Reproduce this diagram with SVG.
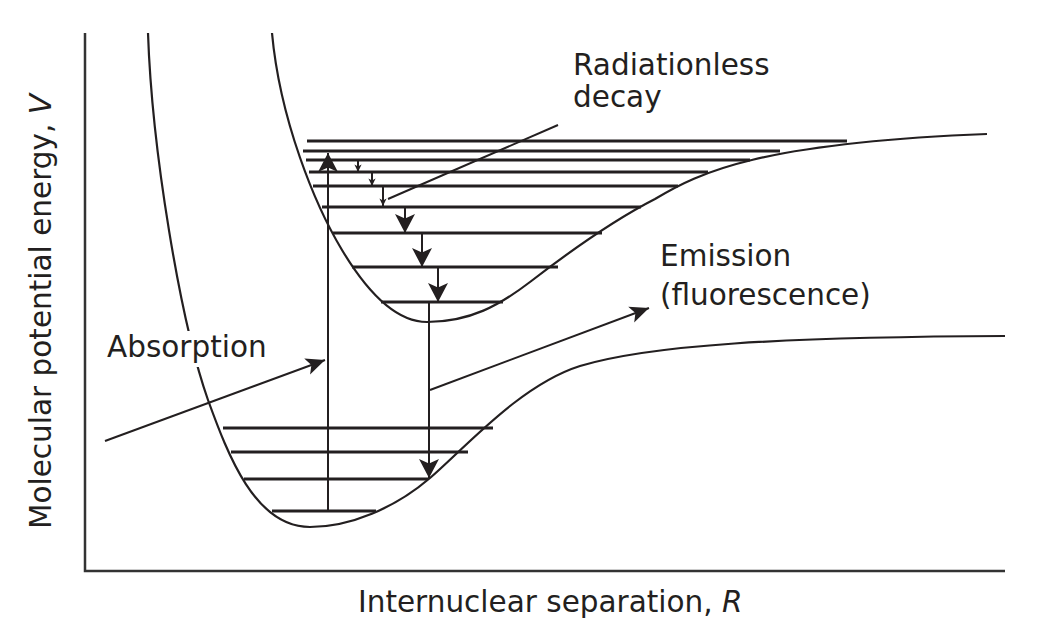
<svg xmlns="http://www.w3.org/2000/svg" width="1053" height="631" viewBox="0 0 1053 631">
<defs>
<style>
.curve{fill:none;stroke:#231f20;stroke-width:2.2}
.lvl{stroke:#231f20;stroke-width:3}
.axis{stroke:#333;stroke-width:2.5;fill:none}
.arr{stroke:#231f20;stroke-width:2;fill:none}
.lbl{font-family:"DejaVu Sans",sans-serif;font-size:29.5px;fill:#231f20}
</style>
<marker id="big" markerUnits="userSpaceOnUse" markerWidth="24" markerHeight="24" viewBox="-20 -12 22 24" refX="0" refY="0" orient="auto">
<path d="M0,0 L-19,-10 L-14.5,0 L-19,10 Z" fill="#231f20"/>
</marker>
<marker id="lab" markerUnits="userSpaceOnUse" markerWidth="24" markerHeight="24" viewBox="-20 -12 22 24" refX="0" refY="0" orient="auto">
<path d="M0,0 L-19,-8.5 L-14.5,0 L-19,8.5 Z" fill="#231f20"/>
</marker>
<marker id="small" markerUnits="userSpaceOnUse" markerWidth="10" markerHeight="10" viewBox="-8 -5 10 10" refX="0" refY="0" orient="auto">
<path d="M0,0 L-7.5,-3.6 L-5.5,0 L-7.5,3.6 Z" fill="#231f20"/>
</marker>
</defs>
<rect width="1053" height="631" fill="#fff"/>

<g id="axes">
<path class="axis" d="M85,33 V571 H1005"/>
</g>

<g id="lower-curve">
<path class="curve" d="M148,33 C152,150 180,320 208,400 C228,455 255,527 310,527 C350,527 395,508 430,478 C465,448 520,385 580,366 C650,345 780,337 1005,336"/>
<g id="lower-levels">
<line class="lvl" x1="223" y1="428" x2="493" y2="428"/>
<line class="lvl" x1="231" y1="452" x2="468" y2="452"/>
<line class="lvl" x1="244" y1="479" x2="428" y2="479"/>
<line class="lvl" x1="272" y1="511" x2="376" y2="511"/>
</g>
</g>

<g id="upper-curve">
<path class="curve" d="M272,33 C280,120 315,205 342,250 C360,280 390,322 427,322 C470,322 500,305 530,282 C565,255 610,222 655,199 C700,172 760,143 987,134"/>
<g id="upper-levels">
<line class="lvl" x1="307" y1="141" x2="847" y2="141"/>
<line class="lvl" x1="303" y1="151" x2="780" y2="151"/>
<line class="lvl" x1="306" y1="160" x2="750" y2="160"/>
<line class="lvl" x1="309" y1="172" x2="708" y2="172"/>
<line class="lvl" x1="313" y1="186" x2="678" y2="186"/>
<line class="lvl" x1="322" y1="207" x2="641" y2="207"/>
<line class="lvl" x1="333" y1="233" x2="602" y2="233"/>
<line class="lvl" x1="352" y1="267" x2="558" y2="267"/>
<line class="lvl" x1="381" y1="302" x2="503" y2="302"/>
</g>
</g>

<rect id="absorption-bg" x="103" y="331" width="177" height="36" fill="#fff"/>

<g id="connectors">
<line class="arr" x1="328" y1="511" x2="328" y2="153" marker-end="url(#big)"/>
<line class="arr" x1="429" y1="302" x2="429" y2="478" marker-end="url(#big)"/>
<line class="arr" x1="405" y1="207" x2="405" y2="233" marker-end="url(#big)"/>
<line class="arr" x1="422" y1="233" x2="422" y2="267" marker-end="url(#big)"/>
<line class="arr" x1="438" y1="267" x2="438" y2="302" marker-end="url(#big)"/>
<line class="arr" x1="358" y1="160" x2="358" y2="172" stroke-width="1.6" marker-end="url(#small)"/>
<line class="arr" x1="372" y1="172" x2="372" y2="186" stroke-width="1.6" marker-end="url(#small)"/>
<line class="arr" x1="383" y1="186" x2="383" y2="206" stroke-width="1.6" marker-end="url(#small)"/>
<line class="arr" x1="388" y1="199" x2="558" y2="125"/>
<line class="arr" x1="105" y1="441" x2="325" y2="360" marker-end="url(#lab)"/>
<line class="arr" x1="430" y1="390" x2="649" y2="308" marker-end="url(#lab)"/>
</g>

<g id="labels">
<text class="lbl" x="573" y="75">Radiationless</text>
<text class="lbl" x="573" y="107">decay</text>
<text class="lbl" x="660" y="266">Emission</text>
<text class="lbl" x="660" y="305">(fluorescence)</text>
<text class="lbl" x="107" y="357">Absorption</text>
<text class="lbl" x="358" y="612">Internuclear separation, <tspan font-style="italic">R</tspan></text>
<text class="lbl" transform="translate(51,529) rotate(-90)" x="0" y="0">Molecular potential energy, <tspan font-style="italic">V</tspan></text>
</g>
</svg>
